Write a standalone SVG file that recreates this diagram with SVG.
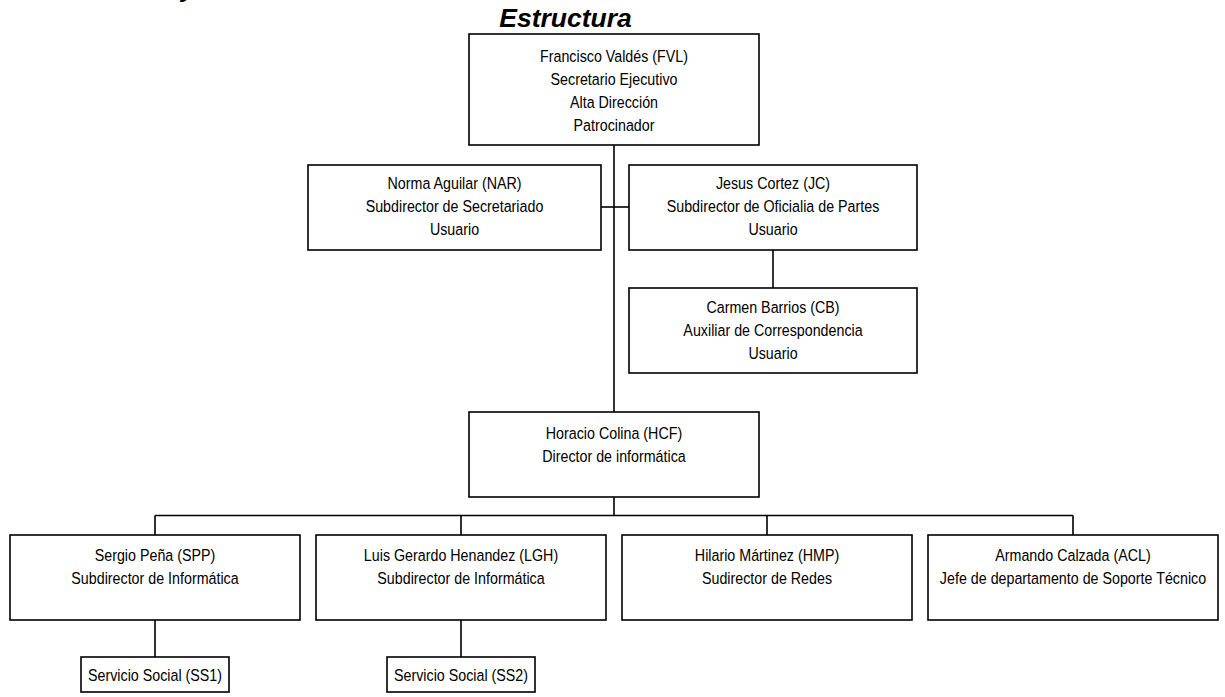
<svg xmlns="http://www.w3.org/2000/svg" width="1225" height="697" viewBox="0 0 1225 697">
  <style>
    .box { fill: #ffffff; stroke: #000000; stroke-width: 1.6; }
    .lbl { font-family: "Liberation Sans", Arial, sans-serif; font-size: 17px; fill: #000000; text-anchor: middle; }
    .title { font-family: "Liberation Sans", Arial, sans-serif; font-size: 26.5px; font-weight: bold; font-style: italic; fill: #000000; }
    .wire { fill: none; stroke: #000000; stroke-width: 1.6; }
  </style>
  <rect width="1225" height="697" fill="#ffffff"/>

  <!-- heading (the line above it runs off the top edge) -->
  <text class="title" x="181" y="-3">y</text>
  <text class="title" x="565.5" y="26.5" text-anchor="middle">Estructura</text>

  <!-- connectors -->
  <g id="connectors">
    <path class="wire" d="M614 145 V412"/>
    <path class="wire" d="M601 207 H629"/>
    <path class="wire" d="M773 250 V288"/>
    <path class="wire" d="M614 497 V515.5"/>
    <path class="wire" d="M155 515.5 H1073"/>
    <path class="wire" d="M155 515.5 V535 M461 515.5 V535 M767 515.5 V535 M1073 515.5 V535"/>
    <path class="wire" d="M155 620 V657 M461 620 V657"/>
  </g>

  <!-- labels are drawn with a narrowed sans: each text block is squeezed horizontally -->
  <g id="fvl">
    <rect class="box" x="469" y="34" width="290" height="111"/>
    <g transform="translate(614 0) scale(0.84 1)">
      <text class="lbl" x="0" y="62">Francisco Valdés (FVL)</text>
      <text class="lbl" x="0" y="85">Secretario Ejecutivo</text>
      <text class="lbl" x="0" y="108">Alta Dirección</text>
      <text class="lbl" x="0" y="131">Patrocinador</text>
    </g>
  </g>

  <g id="nar">
    <rect class="box" x="308" y="165" width="293" height="85"/>
    <g transform="translate(454.5 0) scale(0.84 1)">
      <text class="lbl" x="0" y="189.5">Norma Aguilar (NAR)</text>
      <text class="lbl" x="0" y="212.5">Subdirector de Secretariado</text>
      <text class="lbl" x="0" y="235.5">Usuario</text>
    </g>
  </g>

  <g id="jc">
    <rect class="box" x="629" y="165" width="288" height="85"/>
    <g transform="translate(773 0) scale(0.84 1)">
      <text class="lbl" x="0" y="189.5">Jesus Cortez (JC)</text>
      <text class="lbl" x="0" y="212.5">Subdirector de Oficialia de Partes</text>
      <text class="lbl" x="0" y="235.5">Usuario</text>
    </g>
  </g>

  <g id="cb">
    <rect class="box" x="629" y="288" width="288" height="85"/>
    <g transform="translate(773 0) scale(0.84 1)">
      <text class="lbl" x="0" y="313.5">Carmen Barrios (CB)</text>
      <text class="lbl" x="0" y="336.5">Auxiliar de Correspondencia</text>
      <text class="lbl" x="0" y="359.5">Usuario</text>
    </g>
  </g>

  <g id="hcf">
    <rect class="box" x="469" y="412" width="290" height="85"/>
    <g transform="translate(614 0) scale(0.84 1)">
      <text class="lbl" x="0" y="439">Horacio Colina (HCF)</text>
      <text class="lbl" x="0" y="462">Director de informática</text>
    </g>
  </g>

  <g id="spp">
    <rect class="box" x="10" y="535" width="290" height="85"/>
    <g transform="translate(155 0) scale(0.84 1)">
      <text class="lbl" x="0" y="561">Sergio Peña (SPP)</text>
      <text class="lbl" x="0" y="584">Subdirector de Informática</text>
    </g>
  </g>

  <g id="lgh">
    <rect class="box" x="316" y="535" width="290" height="85"/>
    <g transform="translate(461 0) scale(0.84 1)">
      <text class="lbl" x="0" y="561">Luis Gerardo Henandez (LGH)</text>
      <text class="lbl" x="0" y="584">Subdirector de Informática</text>
    </g>
  </g>

  <g id="hmp">
    <rect class="box" x="622" y="535" width="290" height="85"/>
    <g transform="translate(767 0) scale(0.84 1)">
      <text class="lbl" x="0" y="561">Hilario Mártinez (HMP)</text>
      <text class="lbl" x="0" y="584">Sudirector de Redes</text>
    </g>
  </g>

  <g id="acl">
    <rect class="box" x="928" y="535" width="290" height="85"/>
    <g transform="translate(1073 0) scale(0.84 1)">
      <text class="lbl" x="0" y="561">Armando Calzada (ACL)</text>
      <text class="lbl" x="0" y="584">Jefe de departamento de Soporte Técnico</text>
    </g>
  </g>

  <g id="ss1">
    <rect class="box" x="81" y="657" width="148" height="35"/>
    <g transform="translate(155 0) scale(0.84 1)">
      <text class="lbl" x="0" y="681">Servicio Social (SS1)</text>
    </g>
  </g>

  <g id="ss2">
    <rect class="box" x="387" y="657" width="148" height="35"/>
    <g transform="translate(461 0) scale(0.84 1)">
      <text class="lbl" x="0" y="681">Servicio Social (SS2)</text>
    </g>
  </g>
</svg>
